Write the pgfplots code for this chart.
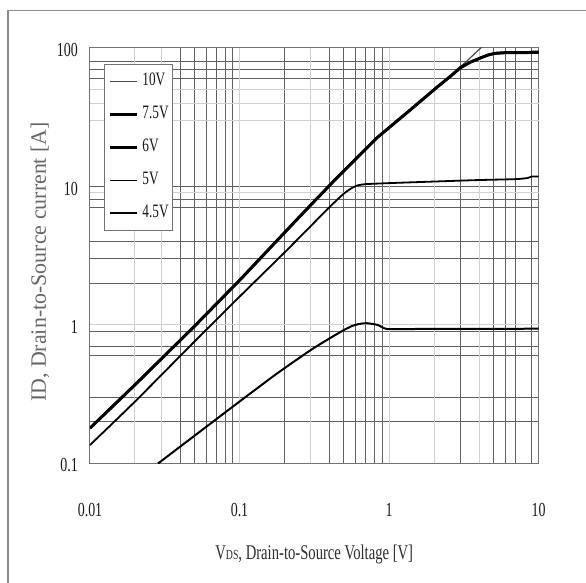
\documentclass[border=0pt]{standalone}
\usepackage{fontspec}
\setmainfont{Liberation Serif}[FakeStretch=0.7]
\newfontfamily\ylabfont{Liberation Serif}
\usepackage{pgfplots}
\pgfplotsset{compat=1.18}
\begin{document}
\begin{tikzpicture}[x=1bp,y=1bp]
\path[use as bounding box] (0,0) rectangle (586,583);
\draw[black!45, line width=1.3bp] (8,0) -- (8,572.5) -- (586,572.5);
\begin{axis}[
  at={(90bp,119.5bp)}, anchor=south west,
  scale only axis, width=448.5bp, height=415.5bp,
  xmode=log, ymode=log,
  xmin=0.01, xmax=10, ymin=0.1, ymax=100,
  xtick={0.01,0.1,1,10}, xticklabels={0.01,0.1,1,10},
  ytick={0.1,1,10,100}, yticklabels={0.1,1,10,100},
  minor xtick={0.04,0.05,0.06,0.07,0.08,0.09,0.2,0.4,0.5,0.6,0.7,0.8,0.9,3,5,6,7,9},
  minor ytick={0.2,0.3,0.6,0.7,0.9,2,3,4,7,8,10,60,70,80},
  grid=minor,
  minor grid style={black!62, line width=1bp},
  major grid style={black!18, line width=1bp},
  extra x ticks={0.02,0.03,0.1,0.3,1,2,4}, extra x tick labels={},
  extra y ticks={1,9,30,40,50}, extra y tick labels={},
  extra tick style={grid=major},
  major tick length=0, minor tick length=0,
  axis line style={black!55, line width=1bp},
  tick label style={font=\fontsize{20}{20}\selectfont, text=black!90, inner sep=0pt},
  xticklabel style={anchor=base, yshift=-53bp},
  yticklabel style={anchor=east, xshift=-12bp, yshift=-2bp},
  xlabel={V{\fontsize{14}{14}\selectfont DS}, Drain-to-Source Voltage [V]},
  ylabel={ID, Drain-to-Source current [A]},
  xlabel style={at={(axis description cs:0.5,-0.220)}, anchor=center,
    font=\fontsize{21}{21}\selectfont, text=black!82},
  ylabel style={at={(axis description cs:-0.1115,0.485)}, anchor=center,
    font=\ylabfont\fontsize{22}{22}\selectfont, text=black!60},
  legend style={at={(rel axis cs:0.0312,0.9615)}, anchor=north west,
    draw=black!55, line width=0.9bp, fill=white,
    inner xsep=4bp, inner ysep=10bp, row sep=19bp, column sep=4bp,
    font=\fontsize{19}{19}\selectfont, text=black!90,
    nodes={inner sep=0pt, text height=11bp, text depth=3bp}},
  legend cell align=left,
  legend image code/.code={\draw[#1] (0bp,0bp) -- (27bp,0bp);},
]
% 10V
\addplot[black!70, line width=1.2bp] coordinates {
 (0.01,0.18) (0.02,0.37) (0.05,0.98) (0.1,2.1) (0.254,6.1) (0.422,10.8)
 (0.832,22.5) (1.4,36) (2.09,52) (2.6,63) (2.85,70) (3.3,80) (3.94,96) (4.3,104)};
% 7.5V
\addplot[black, line width=3bp] coordinates {
 (0.01,0.18) (0.02,0.37) (0.05,0.98) (0.1,2.1) (0.254,6.1) (0.422,10.8)
 (0.832,22.5) (1.4,36) (2.09,52) (2.6,63) (3.0,72) (3.5,79) (4.06,84.5)
 (4.6,89) (5.12,91.5) (6,92.5) (8.5,92.5) (9.2,93.5) (10,93.5)};
% 6V
\addplot[black, line width=2.4bp] coordinates {
 (0.01,0.18) (0.02,0.37) (0.05,0.98) (0.1,2.1) (0.254,6.1) (0.422,10.8)
 (0.832,22.5) (1.4,36) (2.09,52) (2.6,63) (3.0,72) (3.5,79) (4.06,84.5)
 (4.6,89) (5.12,91.5) (6,92.5) (10,92.5)};
% 5V
\addplot[black, line width=1.8bp, smooth, tension=0.35] coordinates {
 (0.01,0.136) (0.02,0.28) (0.05,0.76) (0.1,1.6) (0.208,3.48)
 (0.4,7.1) (0.5,8.9) (0.56,9.7) (0.62,10.2) (0.7,10.4) (1.06,10.6)
 (3.65,11.1) (7,11.3) (8.4,11.5) (9,11.8) (10,11.8)};
% 4.5V
\addplot[black, line width=2bp, smooth, tension=0.35] coordinates {
 (0.0285,0.1) (0.1,0.28) (0.18,0.45) (0.3,0.66) (0.4,0.8) (0.5,0.92) (0.566,0.984)
 (0.64,1.02) (0.713,1.03) (0.844,1.0) (0.92,0.95) (0.97,0.935) (1.15,0.935) (10,0.94)};
\legend{10V,7.5V,6V,5V,4.5V}
\end{axis}
\end{tikzpicture}
\end{document}
